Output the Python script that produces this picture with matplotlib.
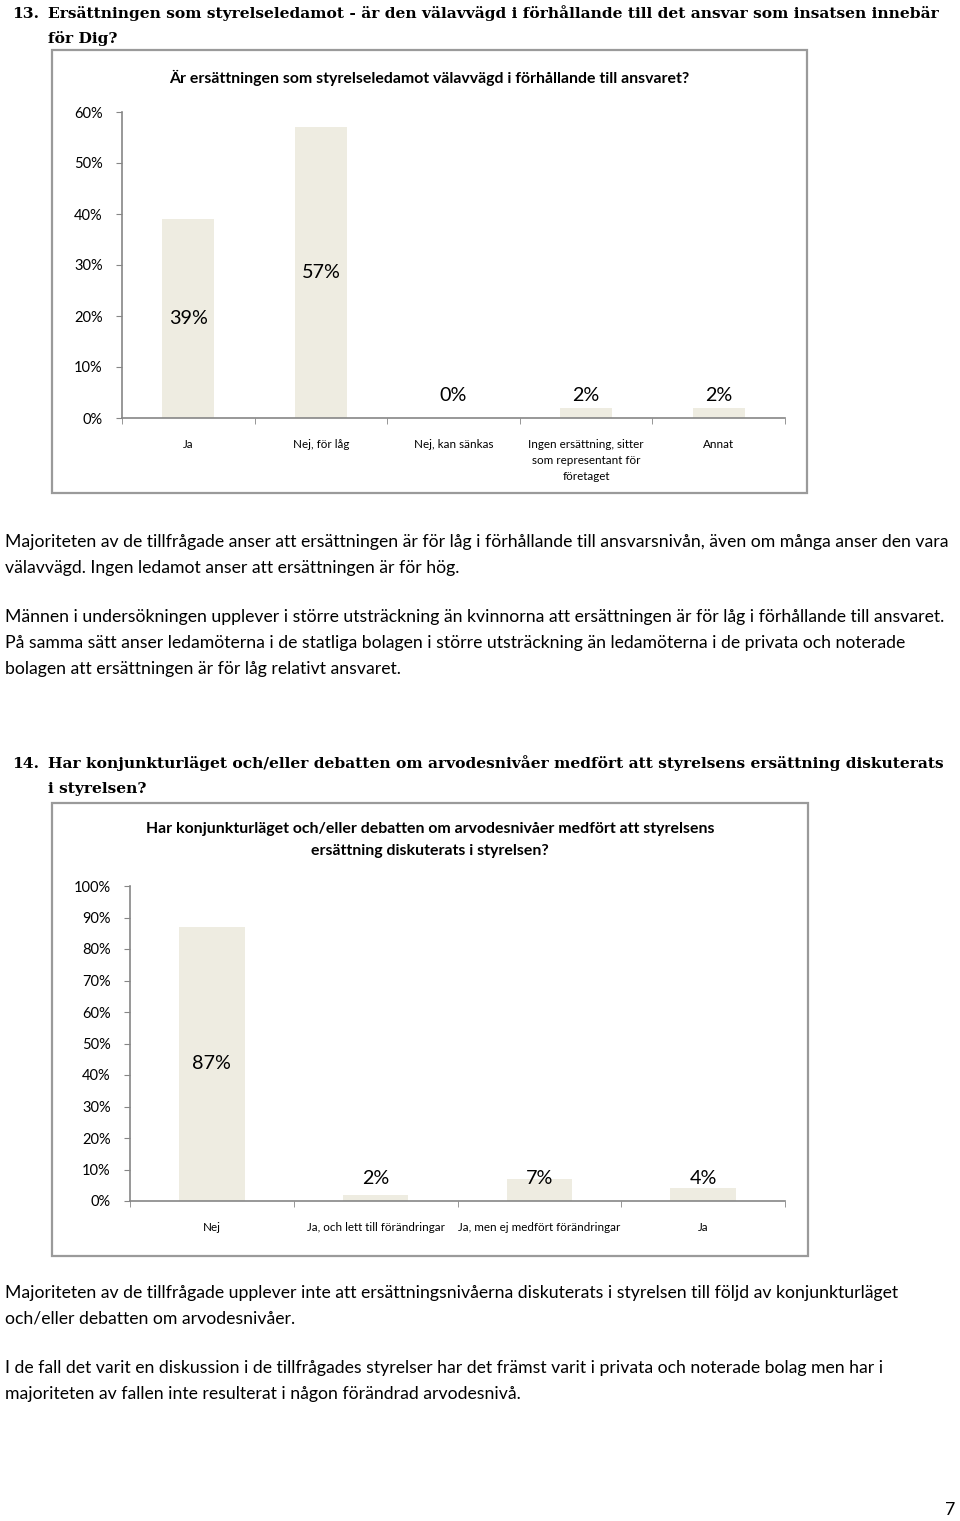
import matplotlib.pyplot as plt
from matplotlib.patches import Rectangle

# =====================================
# DATA
# =====================================
q13_categories = [
    "Ja",
    "Nej, för låg",
    "Nej, kan sänkas",
    "Ingen ersättning, sitter\nsom representant för\nföretaget",
    "Annat",
]
q13_values = [39, 57, 0, 2, 2]
q13_yticks = [0, 10, 20, 30, 40, 50, 60]

q14_categories = [
    "Nej",
    "Ja, och lett till förändringar",
    "Ja, men ej medfört förändringar",
    "Ja",
]
q14_values = [87, 2, 7, 4]
q14_yticks = [0, 10, 20, 30, 40, 50, 60, 70, 80, 90, 100]

q13_heading = ["Ersättningen som styrelseledamot - är den välavvägd i förhållande till det ansvar som insatsen innebär",
               "för Dig?"]
q13_title = ["Är ersättningen som styrelseledamot välavvägd i förhållande till ansvaret?"]
q13_text = [
    "Majoriteten av de tillfrågade anser att ersättningen är för låg i förhållande till ansvarsnivån, även om många anser den vara",
    "välavvägd. Ingen ledamot anser att ersättningen är för hög.",
    "",
    "Männen i undersökningen upplever i större utsträckning än kvinnorna att ersättningen är för låg i förhållande till ansvaret.",
    "På samma sätt anser ledamöterna i de statliga bolagen i större utsträckning än ledamöterna i de privata och noterade",
    "bolagen att ersättningen är för låg relativt ansvaret.",
]

q14_heading = ["Har konjunkturläget och/eller debatten om arvodesnivåer medfört att styrelsens ersättning diskuterats",
               "i styrelsen?"]
q14_title = ["Har konjunkturläget och/eller debatten om arvodesnivåer medfört att styrelsens",
             "ersättning diskuterats i styrelsen?"]
q14_text = [
    "Majoriteten av de tillfrågade upplever inte att ersättningsnivåerna diskuterats i styrelsen till följd av konjunkturläget",
    "och/eller debatten om arvodesnivåer.",
    "",
    "I de fall det varit en diskussion i de tillfrågades styrelser har det främst varit i privata och noterade bolag men har i",
    "majoriteten av fallen inte resulterat i någon förändrad arvodesnivå.",
]

# =====================================
# PAGE SETUP
# =====================================
W, H = 960, 1521
BAR = "#eeece1"
AXIS = "#868686"
SANS = ["Lato", "DejaVu Sans"]
SERIF = ["DejaVu Serif"]

fig = plt.figure(figsize=(9.6, 15.21), dpi=100)
renderer = fig.canvas.get_renderer()


def fx(x):
    return x / W


def fy(y):
    return 1 - y / H


def fit_width(t, target):
    w = t.get_window_extent(renderer).width
    t.set_fontsize(t.get_fontsize() * target / w)
    return t.get_fontsize()


def heading(num, lines, base, size):
    fig.text(fx(12), fy(base), num, family=SERIF, weight="bold",
             fontsize=size, va="baseline", ha="left")
    fig.text(fx(48), fy(base), lines[0], family=SERIF, weight="bold",
             fontsize=size, va="baseline", ha="left")
    fig.text(fx(48), fy(base + 25), lines[1], family=SERIF, weight="bold",
             fontsize=size, va="baseline", ha="left")


def body(lines, y0, size):
    y = y0
    for line in lines:
        if line == "":
            y += 23
            continue
        fig.text(fx(5), fy(y), line, family=SANS, fontsize=size,
                 va="center", ha="left")
        y += 26


def chart(frame, axbox, title_lines, title_y, cats, vals, yticks, bar_w):
    x0, y0, x1, y1 = frame
    fig.add_artist(Rectangle((fx(x0), fy(y1)), fx(x1) - fx(x0), fy(y0) - fy(y1),
                             transform=fig.transFigure, fill=False,
                             edgecolor="#9a9a9a", linewidth=1.6))
    for k, line in enumerate(title_lines):
        fig.text(fx((x0 + x1) / 2), fy(title_y + 22 * k), line, family=SANS,
                 weight="bold", fontsize=11.4, ha="center", va="center")

    l, t, r, b = axbox
    ax = fig.add_axes([fx(l), fy(b), fx(r) - fx(l), fy(t) - fy(b)])
    pos = list(range(len(cats)))
    ax.bar(pos, vals, width=bar_w, color=BAR, zorder=2)
    ax.set_xlim(-0.5, len(cats) - 0.5)
    ax.set_ylim(yticks[0], yticks[-1])

    for s in ["top", "right"]:
        ax.spines[s].set_visible(False)
    for s in ["left", "bottom"]:
        ax.spines[s].set_color(AXIS)
        ax.spines[s].set_linewidth(1.2)

    ax.set_yticks(yticks)
    ax.set_yticklabels([f"{v}%" for v in yticks], family=SANS, fontsize=10.5)
    ax.tick_params(axis="y", length=4, color=AXIS, pad=10)

    ax.set_xticks(pos)
    ax.set_xticklabels(cats, family=SANS, fontsize=8.4, linespacing=1.55, va="top")
    ax.set_xticks([p - 0.5 for p in pos] + [len(cats) - 0.5], minor=True)
    ax.tick_params(axis="x", which="major", length=0, pad=15)
    ax.tick_params(axis="x", which="minor", length=4, color=AXIS)

    for i, v in enumerate(vals):
        if v >= 10:
            ax.text(i, v / 2, f"{v}%", family=SANS, fontsize=14.2,
                    ha="center", va="center", zorder=3)
        else:
            ax.annotate(f"{v}%", (i, 0), xytext=(0, 16), textcoords="offset points",
                        family=SANS, fontsize=14.2, ha="center", va="center", zorder=3)
    return ax


# heading size fitted on the first heading line
probe = fig.text(fx(48), fy(13), q13_heading[0], family=SERIF, weight="bold", fontsize=13)
head_size = fit_width(probe, 893)
probe.remove()

probe = fig.text(fx(5), fy(542), q13_text[0], family=SANS, fontsize=11)
body_size = fit_width(probe, 945)
probe.remove()

# =====================================
# QUESTION 13
# =====================================
heading("13.", q13_heading, 18, head_size)

chart((52, 50, 807, 493), (122, 112, 785, 418), q13_title, 78,
      q13_categories, q13_values, q13_yticks, 0.39)

body(q13_text, 542, body_size)

# =====================================
# QUESTION 14
# =====================================
heading("14.", q14_heading, 768, head_size)

chart((52, 803, 808, 1256), (130, 886, 785, 1201), q14_title, 829,
      q14_categories, q14_values, q14_yticks, 0.40)

body(q14_text, 1293, body_size)

fig.text(fx(950), fy(1510), "7", family=SANS, fontsize=body_size,
         ha="center", va="center")

fig.savefig("out.png", dpi=100)
